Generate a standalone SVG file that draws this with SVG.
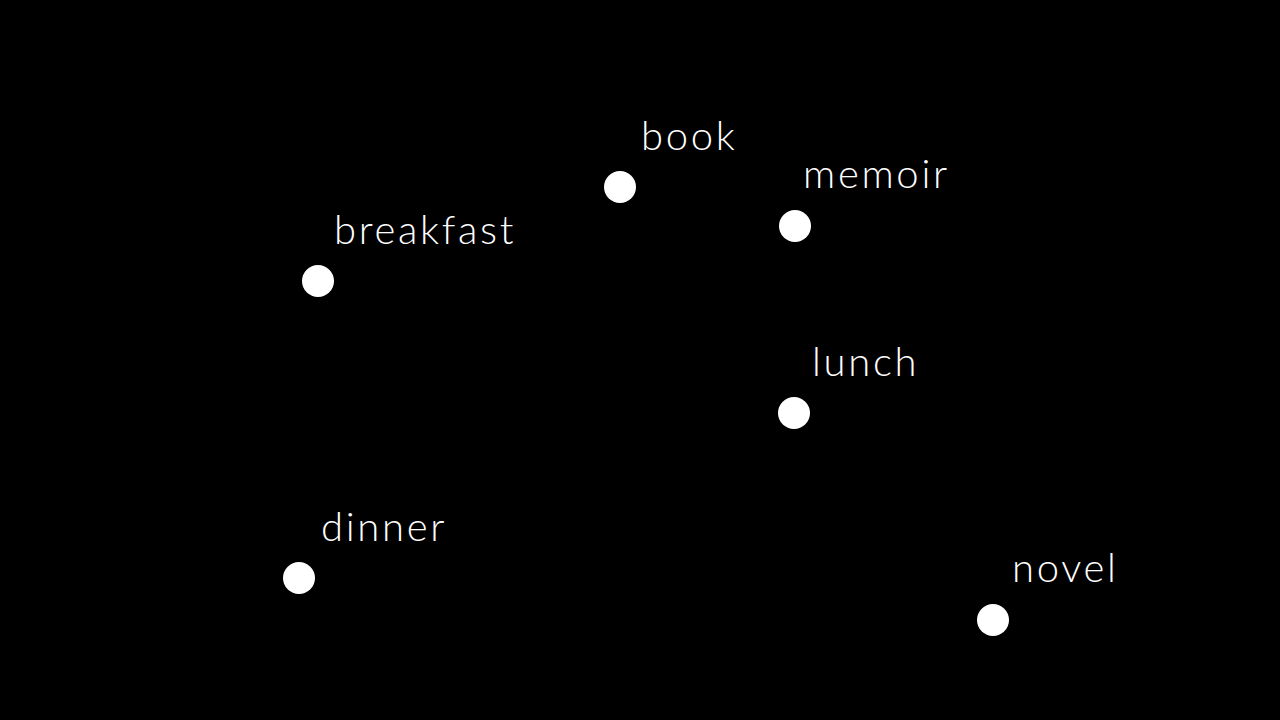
<svg xmlns="http://www.w3.org/2000/svg" width="1280" height="720" viewBox="0 0 1280 720">
<style>
.dot{fill:#ffffff}
.lbl{fill:#ffffff;font-family:Lato,"Noto Sans",sans-serif;font-weight:300;font-size:40px;letter-spacing:2.7px}
</style>
<rect width="1280" height="720" fill="#000000"/>
<g id="connectors"></g>
<g id="book"><circle class="dot" cx="620" cy="187" r="16"/><text class="lbl" x="641" y="150">book</text></g>
<g id="memoir"><circle class="dot" cx="795" cy="226" r="16"/><text class="lbl" x="803" y="188">memoir</text></g>
<g id="breakfast"><circle class="dot" cx="318" cy="281" r="16"/><text class="lbl" x="334" y="244">breakfast</text></g>
<g id="lunch"><circle class="dot" cx="794" cy="413" r="16"/><text class="lbl" x="812" y="376">lunch</text></g>
<g id="dinner"><circle class="dot" cx="299" cy="578" r="16"/><text class="lbl" x="321" y="541">dinner</text></g>
<g id="novel"><circle class="dot" cx="993" cy="620" r="16"/><text class="lbl" x="1012" y="582">novel</text></g>
</svg>
